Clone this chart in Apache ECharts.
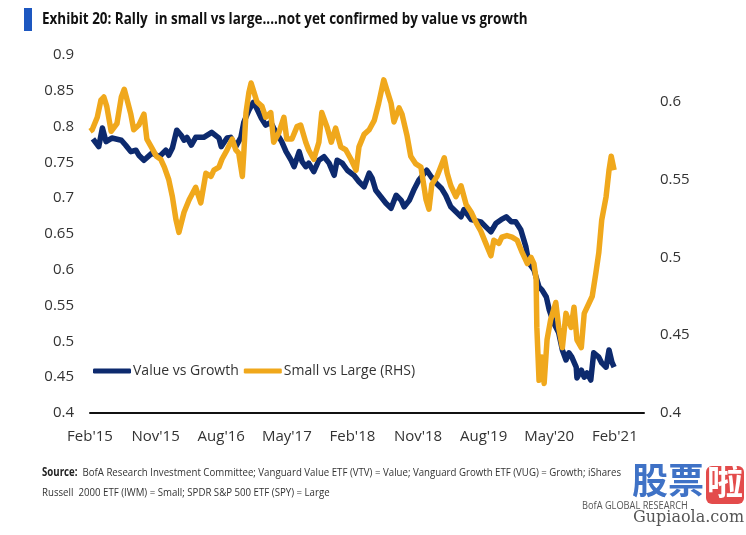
<!DOCTYPE html>
<html>
<head>
<meta charset="utf-8">
<script src="https://cdn.jsdelivr.net/npm/echarts@6/dist/echarts.min.js"></script>
<style>
html,body{margin:0;padding:0;background:#fff;}
#c{width:746px;height:535px;}
</style>
</head>
<body>
<div id="c"></div>
<script>
// x positions are months since Feb 2015
var xTickLabels = {0:"Feb'15",9:"Nov'15",18:"Aug'16",27:"May'17",36:"Feb'18",45:"Nov'18",54:"Aug'19",63:"May'20",72:"Feb'21"};

var vgMonths = [0.4,1.2,1.7,2.2,3.0,4.3,4.9,5.6,6.3,6.7,
7.4,8.5,9.5,10.4,10.8,11.3,11.9,12.5,12.9,13.3,
13.9,14.5,15.6,16.7,17.7,18.0,18.8,19.3,20.0,20.7,
21.1,21.8,22.4,22.8,23.5,24.1,24.8,25.2,26.3,26.9,
27.6,28.0,28.7,29.1,29.6,30.0,30.7,31.4,32.1,32.8,
33.5,33.9,34.6,35.3,36.2,36.9,37.6,38.3,38.7,39.2,
39.9,40.6,41.3,42.0,42.7,43.1,43.8,44.4,45.1,46.2,
46.8,47.5,48.2,48.8,49.5,50.2,50.9,51.3,52.3,53.6,
54.3,55.0,55.7,56.4,57.1,57.8,58.4,59.1,59.8,60.2,
60.9,61.6,62.0,62.6,63.0,63.6,64.3,64.8,65.3,65.7,
66.1,66.7,66.8,67.4,67.8,68.2,68.7,69.1,69.8,70.2,
70.8,71.2,71.6,71.9];
var vgValues = [0.783,0.772,0.798,0.779,0.784,0.781,0.774,0.765,0.767,0.760,
0.753,0.763,0.758,0.767,0.760,0.770,0.795,0.788,0.781,0.785,
0.774,0.785,0.785,0.792,0.784,0.772,0.784,0.785,0.772,0.785,
0.806,0.823,0.834,0.827,0.812,0.802,0.806,0.798,0.779,0.765,
0.753,0.744,0.765,0.751,0.744,0.749,0.737,0.753,0.758,0.749,
0.732,0.753,0.749,0.739,0.732,0.723,0.716,0.735,0.728,0.711,
0.702,0.693,0.686,0.704,0.697,0.688,0.697,0.711,0.725,0.739,
0.730,0.721,0.714,0.704,0.688,0.681,0.674,0.684,0.670,0.667,
0.660,0.653,0.665,0.670,0.674,0.667,0.667,0.656,0.632,0.610,
0.600,0.576,0.572,0.562,0.544,0.526,0.512,0.488,0.474,0.484,
0.478,0.464,0.449,0.460,0.450,0.456,0.446,0.484,0.478,0.470,
0.464,0.488,0.471,0.464];

var slMonths = [0,0.3,1.0,1.5,1.9,2.3,2.9,3.7,4.3,4.7,
5.1,5.6,6.0,6.7,7.4,7.8,8.4,9.1,9.7,10.2,
10.8,11.3,11.8,12.2,12.9,13.6,14.5,15.2,15.9,16.6,
17.0,17.7,18.1,18.8,19.5,20.0,20.4,20.9,21.1,21.4,
21.8,22.1,22.5,22.9,23.6,24.1,24.8,25.2,25.9,26.6,
27.0,27.7,28.4,28.9,29.6,30.0,30.7,31.4,31.8,32.5,
33.1,33.7,34.4,35.1,35.8,36.5,36.9,37.6,38.3,39.0,
39.6,40.3,40.7,41.3,41.7,42.4,42.8,43.5,44.0,44.7,
45.4,46.1,46.5,46.9,47.6,48.6,49.0,49.5,50.2,50.9,
51.6,52.3,53.0,53.6,54.3,55.0,55.4,56.1,56.5,57.2,
57.9,58.6,59.3,60.0,60.5,60.9,61.2,61.3,61.6,62.0,
62.3,62.7,63.2,63.9,64.3,64.8,65.3,66.0,66.4,66.8,
67.4,67.8,68.5,68.9,69.4,69.8,70.2,70.8,71.2,71.5,71.9];
var slValues = [0.581,0.582,0.590,0.601,0.603,0.597,0.581,0.586,0.603,0.608,
0.601,0.592,0.582,0.585,0.592,0.576,0.571,0.565,0.563,0.558,
0.550,0.539,0.524,0.516,0.529,0.537,0.545,0.535,0.554,0.552,
0.556,0.558,0.563,0.569,0.576,0.569,0.567,0.552,0.567,0.593,
0.606,0.612,0.606,0.600,0.597,0.590,0.593,0.574,0.580,0.590,
0.576,0.576,0.584,0.585,0.574,0.569,0.563,0.574,0.593,0.584,
0.574,0.583,0.571,0.569,0.563,0.556,0.571,0.579,0.582,0.588,
0.599,0.614,0.608,0.599,0.587,0.596,0.592,0.578,0.565,0.560,
0.558,0.537,0.531,0.547,0.552,0.564,0.554,0.546,0.539,0.546,
0.534,0.529,0.522,0.517,0.509,0.501,0.511,0.509,0.513,0.514,
0.513,0.511,0.503,0.496,0.500,0.496,0.486,0.455,0.421,0.436,
0.419,0.447,0.460,0.471,0.455,0.442,0.464,0.455,0.468,0.447,
0.442,0.464,0.471,0.475,0.490,0.503,0.524,0.539,0.556,0.565,0.556];

function pairs(ms, vs){ return ms.map(function(m,i){ return [m, vs[i]]; }); }

var NAVY = '#0d2a6e';
var GOLD = '#f0a81c';
var FONT = "'Open Sans', 'Noto Sans', sans-serif";

var chart = echarts.init(document.getElementById('c'), null, {renderer:'canvas'});
chart.setOption({
  animation: false,
  backgroundColor: '#fff',
  grid: {left: 90, right: 102, top: 55, bottom: 122, containLabel: false},
  graphic: [
    {type:'rect', left: 24, top: 8, shape:{width: 8, height: 23}, style:{fill:'#1d57c0'}},
    {type:'text', x: 42, y: 11, scaleX: 0.84, style:{text:'Exhibit 20: Rally  in small vs large....not yet confirmed by value vs growth', font:"bold 16px " + FONT, fill:'#111'}},
    {type:'text', x: 42, y: 463, scaleX: 0.84, style:{
      text:'{b|Source:}  BofA Research Investment Committee; Vanguard Value ETF (VTV) = Value; Vanguard Growth ETF (VUG) = Growth; iShares\nRussell  2000 ETF (IWM) = Small; SPDR S&P 500 ETF (SPY) = Large',
      font: "11.5px " + FONT, fill:'#333', lineHeight: 20,
      rich:{b:{font:"bold 11.5px " + FONT, fill:'#222'}}
    }},
    {type:'text', x: 582, y: 500, scaleX: 0.84, style:{text:'BofA GLOBAL RESEARCH', font:"11px " + FONT, fill:'#555'}},
    {type:'text', left: 632, top: 462, style:{text:'股票', font:"bold 36px 'Noto Sans CJK SC'", fill:'#3f72c6'}},
    {type:'rect', left: 706, top: 466, shape:{width: 38, height: 38, r: 6}, style:{fill:'#e34b4b'}},
    {type:'text', left: 707, top: 463, style:{text:'啦', font:"bold 36px 'Noto Sans CJK SC'", fill:'#fff'}},
    {type:'text', left: 633, top: 510, style:{text:'Gupiaola.com', font:"16px 'DejaVu Serif', serif", fill:'#555'}}
  ],
  legend: {
    left: 93, top: 361, padding: 0, itemGap: 5,
    itemWidth: 38, itemHeight: 5, icon: 'roundRect',
    textStyle: {fontFamily: FONT, fontSize: 14, color:'#333', lineHeight: 20, padding:[0,0,0,-3]},
    data: ['Value vs Growth', 'Small vs Large (RHS)']
  },
  xAxis: {
    type: 'value', min: 0, max: 76, interval: 9,
    axisLine: {show: true, lineStyle: {color: '#111', width: 2}},
    axisTick: {show: false},
    splitLine: {show: false},
    axisLabel: {
      margin: 16, fontFamily: FONT, fontSize: 15, color: '#333',
      formatter: function(v){ return xTickLabels[v] || ''; }
    }
  },
  yAxis: [
    {
      type: 'value', min: 0.4, max: 0.9, interval: 0.05,
      axisLine: {show:false}, axisTick: {show:false}, splitLine: {show:false},
      axisLabel: {margin: 16, fontFamily: FONT, fontSize: 15, color: '#333',
        formatter: function(v){ return String(+v.toFixed(2)); }}
    },
    {
      type: 'value', min: 0.4, max: 0.63, interval: 0.05, position: 'right',
      axisLine: {show:false}, axisTick: {show:false}, splitLine: {show:false},
      axisLabel: {margin: 16, fontFamily: FONT, fontSize: 15, color: '#333', showMaxLabel: false,
        formatter: function(v){ return v > 0.61 ? '' : String(+v.toFixed(2)); }}
    }
  ],
  series: [
    {
      name: 'Value vs Growth', type: 'line', yAxisIndex: 0, showSymbol: false,
      data: pairs(vgMonths, vgValues),
      lineStyle: {color: NAVY, width: 5.5, join: 'round'},
      itemStyle: {color: NAVY}
    },
    {
      name: 'Small vs Large (RHS)', type: 'line', yAxisIndex: 1, showSymbol: false,
      data: pairs(slMonths, slValues),
      lineStyle: {color: GOLD, width: 5.5, join: 'round'},
      itemStyle: {color: GOLD}
    }
  ]
});
</script>
</body>
</html>
